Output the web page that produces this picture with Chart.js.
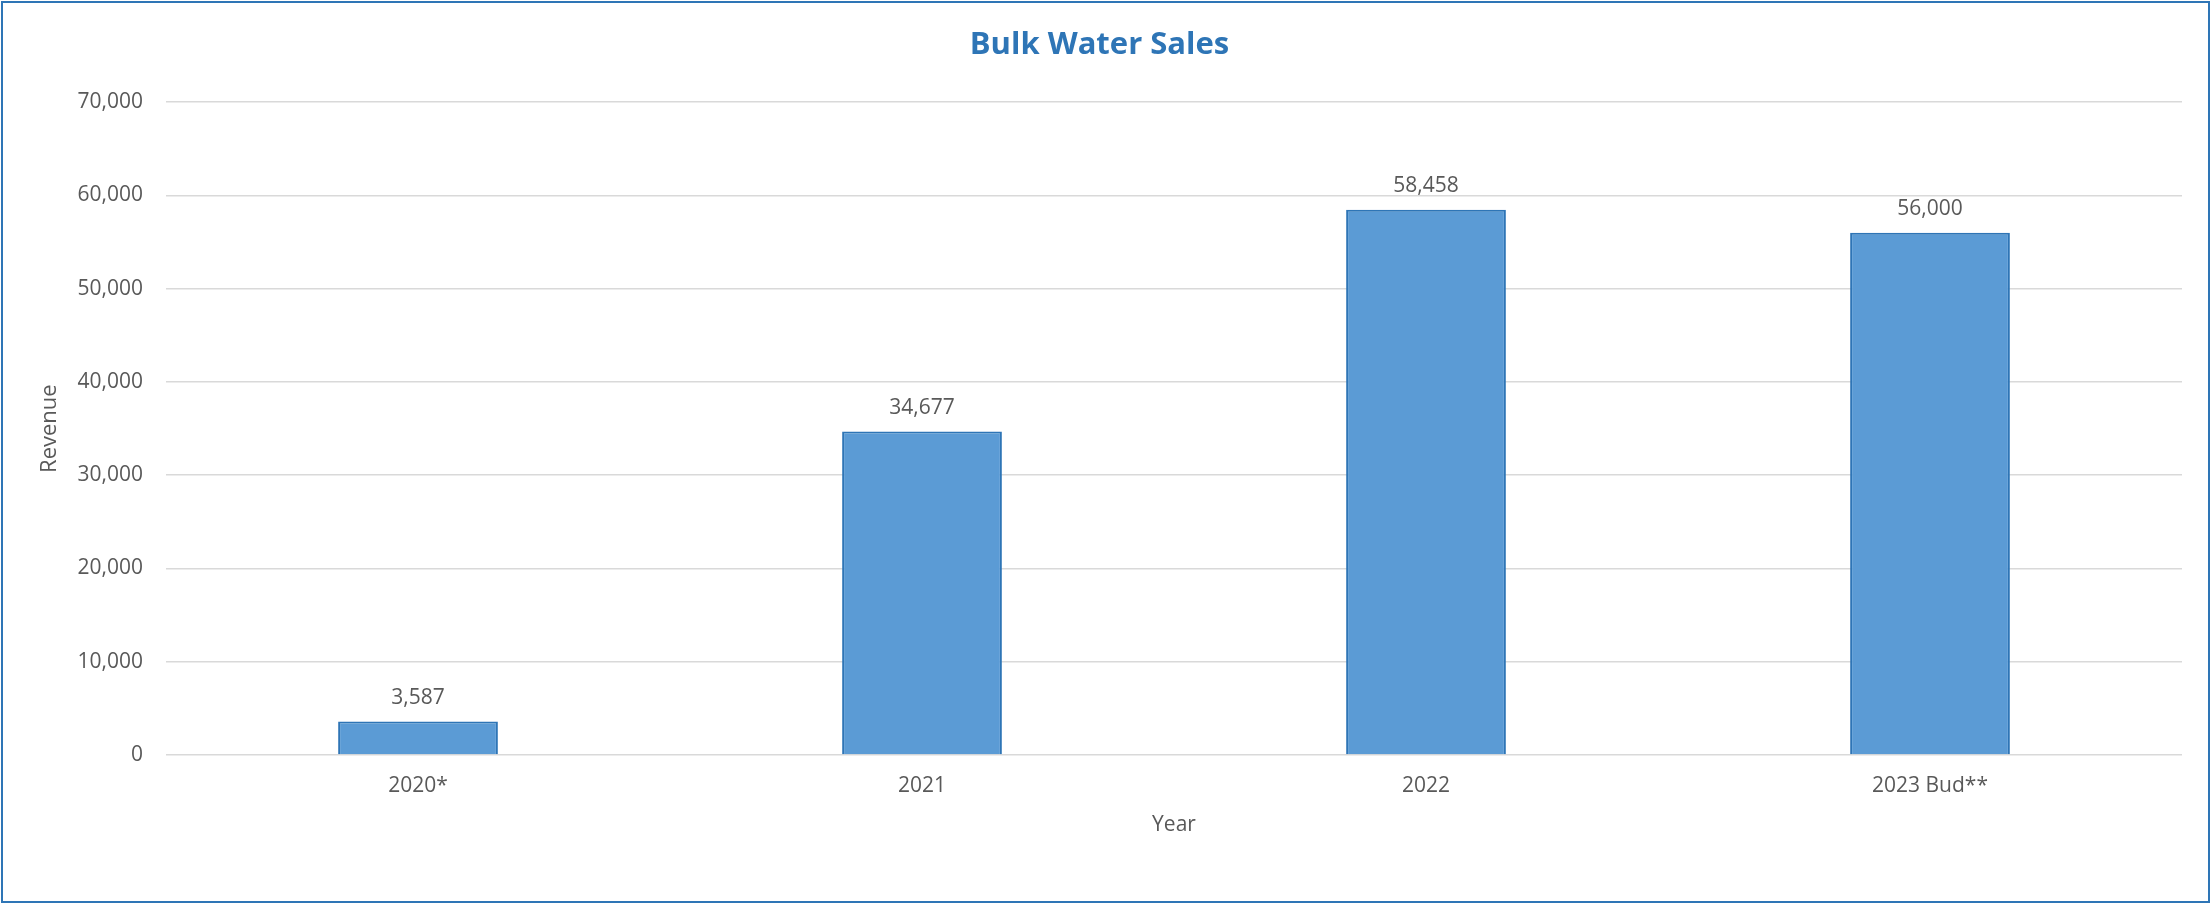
<!DOCTYPE html>
<html>
<head>
<meta charset="utf-8">
<title>Bulk Water Sales</title>
<script src="https://cdn.jsdelivr.net/npm/chart.js@4.4.0/dist/chart.umd.min.js"></script>
<style>
  html, body { margin: 0; padding: 0; background: #fff; }
  #wrap { position: relative; width: 2211px; height: 906px; }
  #frame {
    position: absolute; left: 1px; top: 1px; width: 2209px; height: 902px;
    box-sizing: border-box; border: 2px solid #2E75B6; pointer-events: none;
  }
</style>
</head>
<body>
<div id="wrap">
  <canvas id="barchart" width="2211" height="906"></canvas>
  <div id="frame"></div>
</div>
<script>
var years = ['2020*', '2021', '2022', '2023 Bud**'];
var revenue = [3587, 34677, 58458, 56000];
var yMax = 70000;
var yStep = 10000;

var FONT = "'Open Sans', 'DejaVu Sans', sans-serif";
var TEXT = '#595959';

// value labels above each bar
var barLabels = {
    id: 'barLabels',
    afterDatasetsDraw: function(chart) {
        var c = chart.ctx;
        var meta = chart.getDatasetMeta(0);
        c.save();
        c.font = '21px ' + FONT;
        c.fillStyle = TEXT;
        c.textAlign = 'center';
        c.textBaseline = 'alphabetic';
        meta.data.forEach(function(bar, i) {
            c.fillText(revenue[i].toLocaleString('en-US'), bar.x, bar.y - 18);
        });
        c.restore();
    }
};

var ctx = document.getElementById('barchart').getContext('2d');
var myChart = new Chart(ctx, {
    type: 'bar',
    data: {
        labels: years,
        datasets: [{
            label: 'Revenue',
            data: revenue,
            backgroundColor: '#5B9BD5',
            borderColor: '#2E75B6',
            borderWidth: 2,
            borderSkipped: 'start',
            categoryPercentage: 1,
            barPercentage: 0.317
        }]
    },
    options: {
        responsive: false,
        animation: false,
        layout: {
            padding: { left: 17, right: 29, top: 0, bottom: 0 }
        },
        plugins: {
            legend: { display: false },
            tooltip: { enabled: false },
            title: {
                display: true,
                text: 'Bulk Water Sales',
                color: '#2E75B6',
                font: { family: FONT, size: 31, weight: 'bold' },
                padding: { top: 27, bottom: 38 }
            }
        },
        scales: {
            x: {
                grid: { display: false, drawTicks: false },
                border: { display: false },
                ticks: {
                    color: TEXT,
                    font: { family: FONT, size: 21 },
                    padding: 18,
                    maxRotation: 0
                },
                title: {
                    display: true,
                    text: 'Year',
                    color: TEXT,
                    font: { family: FONT, size: 21 },
                    padding: { top: 0, bottom: 68 }
                },
                afterFit: function(scale) { scale.height = 151; }
            },
            y: {
                min: 0,
                max: yMax,
                grid: { color: '#D9D9D9', lineWidth: 1.5, drawTicks: false },
                border: { display: false },
                ticks: {
                    stepSize: yStep,
                    color: TEXT,
                    font: { family: FONT, size: 21 },
                    padding: 23,
                    callback: function(v) { return v.toLocaleString('en-US'); }
                },
                title: {
                    display: true,
                    text: 'Revenue',
                    color: TEXT,
                    font: { family: FONT, size: 22 },
                    padding: { top: 20, bottom: 0 }
                },
                afterFit: function(scale) { scale.width = 149; }
            }
        }
    },
    plugins: [barLabels]
});
</script>
</body>
</html>
